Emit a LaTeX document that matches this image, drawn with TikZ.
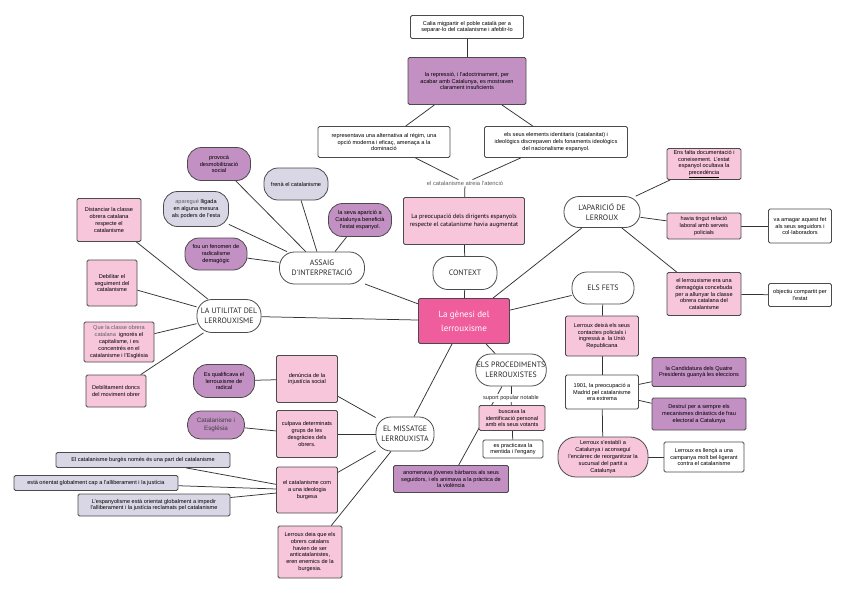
\documentclass[tikz,border=0pt]{standalone}
\usepackage{fontspec}
\setmainfont{Liberation Sans}
\newfontfamily\catfont{PT Sans}
\usetikzlibrary{backgrounds}
\definecolor{pk}{RGB}{247,198,219}
\definecolor{pu}{RGB}{194,144,194}
\definecolor{lv}{RGB}{217,214,229}
\definecolor{hp}{RGB}{239,93,156}
\definecolor{bd}{RGB}{75,75,75}
\definecolor{gtx}{RGB}{95,95,95}
\newcommand\txs{\fontsize{5.6}{6.8}\selectfont}
\newcommand\cats{\catfont\fontsize{7.8}{9.5}\selectfont}
\tikzset{
 nd/.style n args={4}{draw=bd, line width=0.8pt, fill=#1, minimum width=#2, minimum height=#3, rounded corners=#4, align=center, inner sep=1pt, font=\txs},
 bx/.style n args={3}{nd={#1}{#2}{#3}{1.5pt}},
 pl/.style n args={3}{nd={#1}{#2}{#3}{14pt}},
 cat/.style 2 args={nd={white}{#1}{#2}{15pt}, font=\cats, text=black!85},
 ln/.style={draw=black!80, line width=0.75pt},
 lbl/.style={font=\txs, text=gtx, inner sep=1pt, fill=white},
}
\begin{document}
\begin{tikzpicture}[x=1pt,y=-1pt]
\useasboundingbox (0,0) rectangle (848,595);
% context column
\node[bx={white}{113pt}{23pt}] (t1) at (467,27) {Calia migpartir el poble català per a\\separar-lo del catalanisme i afeblir-lo};
\node[bx={pu}{118pt}{47pt}] (t2) at (467,81) {la repressió, i l'adoctrinament, per\\acabar amb Catalunya, es mostraven\\clarament insuficients};
\node[bx={white}{132pt}{31pt}] (t3) at (384,142) {representava una alternativa al règim, una\\opció moderna i eficaç, amenaça a la\\dominació};
\node[bx={white}{143pt}{31pt}] (t4) at (556,142) {els seus elements identitaris (catalanitat) i\\ideològics discrepaven dels fonaments ideològics\\del nacionalisme espanyol.};
\node[lbl, font=\fontsize{5.8}{7}\selectfont] (lblA) at (465,183) {el catalanisme atreia l'atenció};
\node[bx={pk}{121pt}{47pt}, font=\catfont\fontsize{6.2}{8}\selectfont] (prec) at (464,221) {La preocupació dels dirigents espanyols\\respecte el catalanisme havia augmentat};
\node[cat={64pt}{33pt}] (context) at (465,273) {CONTEXT};
\node[bx={hp}{91pt}{45pt}, font=\catfont\fontsize{9}{14}\selectfont, text=white] (main) at (464,321) {La gènesi del\\lerrouxisme};
% assaig
\node[cat={85pt}{32pt}] (assaig) at (322,268) {ASSAIG\\D'INTERPRETACIÓ};
\node[pl={pu}{63pt}{33pt}] (provoca) at (219,164) {provocà\\desmobilització\\social};
\node[pl={lv}{64pt}{32pt}] (frena) at (296,184) {frenà el catalanisme};
\node[pl={lv}{65pt}{35pt}] (apareg) at (196,209) {\textcolor{gtx}{aparegué} lligada\\en alguna mesura\\als poders de l'esta};
\node[pl={pu}{63pt}{33pt}] (seva) at (360,220) {la seva aparició a\\Catalunya beneficià\\l'estat espanyol.};
\node[pl={pu}{62pt}{32pt}] (fou) at (216,254) {fou un fenomen de\\radicalisme\\demagògic};
% utilitat
\node[cat={64pt}{33pt}] (utilitat) at (229,316) {LA UTILITAT DEL\\LERROUXISME};
\node[bx={pk}{64pt}{43pt}] (dist) at (109,220) {Distanciar la classe\\obrera catalana\\respecte el\\catalanisme};
\node[bx={pk}{50pt}{46pt}] (debil) at (112,283) {Debilitar el\\seguiment del\\catalanisme};
\node[bx={pk}{70pt}{40pt}] (quela) at (119,342) {\textcolor{gtx}{Que la classe obrera}\\\textcolor{gtx}{catalana}\ \ ignorés el\\capitalisme, i es\\concentrés en el\\catalanisme i l'Església};
\node[bx={pk}{60pt}{32pt}] (debilit) at (116,391) {Debilitament doncs\\del moviment obrer};
% missatge
\node[cat={58pt}{34pt}] (missatge) at (405,434) {EL MISSATGE\\LERROUXISTA};
\node[bx={pk}{61pt}{47pt}] (denuncia) at (307,379) {denúncia de la\\injustícia social};
\node[pl={pu}{61pt}{33pt}] (esqual) at (224,381) {Es qualificava el\\lerrouxisme de\\radical};
\node[bx={pk}{61pt}{47pt}] (culpava) at (307,434) {culpava determinats\\grups de les\\desgràcies dels\\obrers.};
\node[nd={pu}{57pt}{28pt}{13pt}, font=\fontsize{6.3}{7.6}\selectfont, text=black!75] (catesg) at (216,425) {Catalanisme i\\Església};
\node[bx={pk}{61pt}{46pt}] (catcom) at (307,490) {el catalanisme com\\a una ideologia\\burgesa};
\node[bx={pk}{64pt}{52pt}] (deia) at (310,552) {Lerroux deia que els\\obrers catalans\\havien de ser\\anticatalanistes,\\eren enemics de la\\burgesia.};
\node[bx={lv}{174pt}{15pt}] (burges) at (143,460) {El catalanisme burgès només és una part del catalanisme};
\node[bx={lv}{164pt}{15pt}] (orient) at (96,483) {està orientat globalment cap a l'alliberament i la justícia};
\node[bx={lv}{152pt}{22pt}] (espany) at (154,505) {L'espanyolisme està orientat globalment a impedir\\l'alliberament i la justícia reclamats pel catalanisme};
% procediments
\node[cat={70pt}{32pt}] (proc) at (511,370) {ELS PROCEDIMENTS\\LERROUXISTES};
\node[lbl, text=black!85] (suport) at (511,398) {suport popular notable};
\node[bx={pk}{66pt}{25pt}] (buscava) at (512,418) {buscava la\\identificació personal\\amb els seus votants};
\node[bx={white}{60pt}{18pt}] (mentida) at (513,449) {es practicava la\\mentida i l'engany};
\node[bx={pu}{115pt}{27pt}] (anomen) at (451,479) {anomenava jòvenes bàrbaros als seus\\seguidors, i els animava a la pràctica de\\la violència};
% fets
\node[cat={62pt}{32pt}] (fets) at (603,288) {ELS FETS};
\node[bx={pk}{73pt}{40pt}] (deixa) at (602,336) {Lerroux deixà els seus\\contactes policials i\\ingressà a\ \ la Unió\\Republicana};
\node[bx={white}{73pt}{34pt}] (d1901) at (602,392) {1901, la preocupació a\\Madrid pel catalanisme\\era extrema};
\node[nd={pk}{90pt}{40pt}{18pt}] (establ) at (603,457) {Lerroux s'establí a\\Catalunya i aconseguí\\l'encàrrec de reorganitzar la\\sucursal del partit a\\Catalunya};
\node[bx={pu}{94pt}{29pt}] (candid) at (699,372) {la Candidatura dels Quatre\\Presidents guanyà les eleccions};
\node[bx={pu}{94pt}{32pt}] (destrui) at (699,414) {Destruí per a sempre els\\mecanismes dinàstics de frau\\electoral a Catalunya};
\node[bx={white}{80pt}{30pt}] (llenca) at (704,457) {Lerroux es llençà a una\\campanya molt bel·ligerant\\contra el catalanisme};
% aparicio
\node[cat={76pt}{31pt}] (aparicio) at (602,212) {L'APARICIÓ DE\\LERROUX};
\node[bx={pk}{74pt}{31pt}] (falta) at (704,164) {Ens falta documentació i\\coneixement. L'estat\\espanyol ocultava la\\\underline{precedència}};
\node[bx={pk}{74pt}{26pt}] (havia) at (704,226) {havia tingut relació\\laboral amb serveis\\policials};
\node[bx={white}{63pt}{34pt}] (amagar) at (800,226) {va amagar aquest fet\\als seus seguidors i\\col·laboradors};
\node[bx={pk}{74pt}{43pt}] (erauna) at (704,294) {el lerrouxisme era una\\demagògia concebuda\\per a allunyar la classe\\obrera catalana del\\catalanisme};
\node[bx={white}{63pt}{23pt}] (objectiu) at (800,295) {objectiu compartit per\\l'estat};
\begin{scope}[on background layer]
\fill[white] (0,0) rectangle (848,595);
\draw[ln] (t1)--(t2); \draw[ln] (t2)--(t3); \draw[ln] (t2)--(t4);
\draw[ln] (t3)--(lblA); \draw[ln] (t4)--(lblA); \draw[ln] (lblA)--(prec);
\draw[ln] (prec)--(context); \draw[ln] (context)--(main);
\draw[ln] (main)--(assaig); \draw[ln] (main)--(utilitat); \draw[ln] (main)--(missatge);
\draw[ln] (main)--(proc); \draw[ln] (main)--(fets); \draw[ln] (main)--(aparicio);
\draw[ln] (assaig)--(provoca); \draw[ln] (assaig)--(frena); \draw[ln] (assaig)--(apareg);
\draw[ln] (assaig)--(seva); \draw[ln] (assaig)--(fou);
\draw[ln] (utilitat)--(dist); \draw[ln] (utilitat)--(debil); \draw[ln] (utilitat)--(quela); \draw[ln] (utilitat)--(debilit);
\draw[ln] (missatge)--(denuncia); \draw[ln] (missatge)--(culpava); \draw[ln] (missatge)--(catcom); \draw[ln] (missatge)--(deia);
\draw[ln] (denuncia)--(esqual); \draw[ln] (culpava)--(catesg);
\draw[ln] (catcom)--(burges); \draw[ln] (catcom)--(orient); \draw[ln] (catcom)--(espany);
\draw[ln] (proc)--(anomen); \draw[ln] (proc)--(suport); \draw[ln] (suport)--(buscava); \draw[ln] (buscava)--(mentida);
\draw[ln] (fets)--(deixa); \draw[ln] (deixa)--(d1901); \draw[ln] (d1901)--(establ);
\draw[ln] (d1901)--(candid); \draw[ln] (d1901)--(destrui); \draw[ln] (establ)--(llenca);
\draw[ln] (aparicio)--(falta); \draw[ln] (aparicio)--(havia); \draw[ln] (havia)--(amagar);
\draw[ln] (aparicio)--(erauna); \draw[ln] (erauna)--(objectiu);
\end{scope}
\end{tikzpicture}
\end{document}
